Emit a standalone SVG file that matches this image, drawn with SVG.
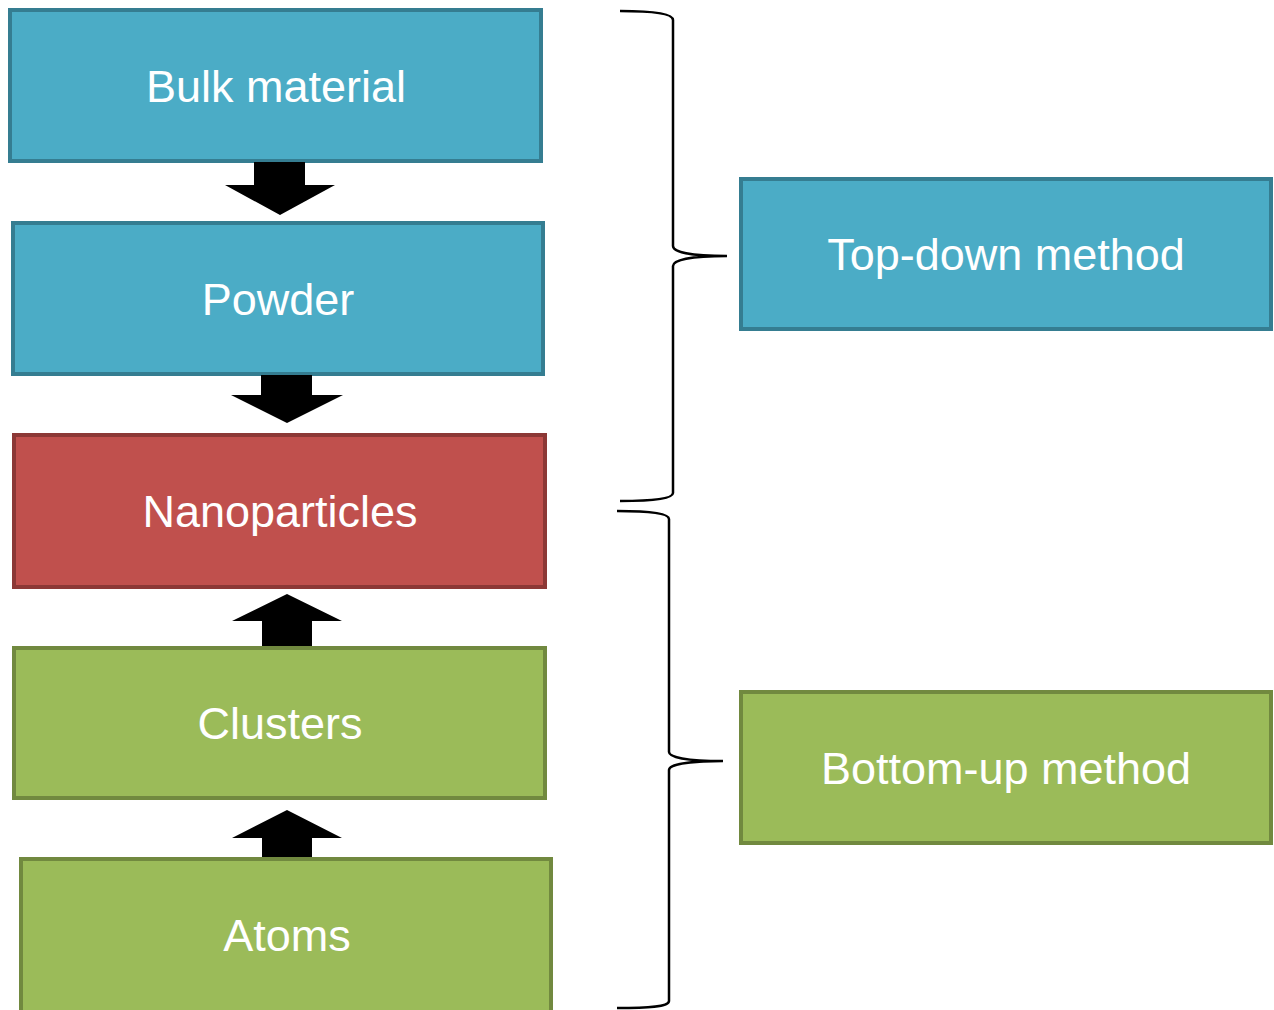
<svg xmlns="http://www.w3.org/2000/svg" width="1274" height="1010" viewBox="0 0 1274 1010">
<style>
.blue{fill:#4BACC6;stroke:#357D91;stroke-width:4}
.red{fill:#C0504D;stroke:#8C3836;stroke-width:4}
.green{fill:#9BBB59;stroke:#71893F;stroke-width:4}
.lbl{font-family:"Liberation Sans",Arial,sans-serif;font-size:45px;fill:#FFFFFF;text-anchor:middle}
.arr{fill:#000000}
.brace{fill:none;stroke:#000000;stroke-width:2.5}
</style>
<rect x="0" y="0" width="1274" height="1010" fill="#FFFFFF"/>
<g id="bulk"><rect class="blue" x="10" y="10" width="531" height="151"/><text class="lbl" x="276" y="102">Bulk material</text></g>
<g id="powder"><rect class="blue" x="13" y="223" width="530" height="151"/><text class="lbl" x="278" y="315">Powder</text></g>
<g id="nano"><rect class="red" x="14" y="435" width="531" height="152"/><text class="lbl" x="280" y="527">Nanoparticles</text></g>
<g id="clusters"><rect class="green" x="14" y="648" width="531" height="150"/><text class="lbl" x="280" y="739">Clusters</text></g>
<g id="atoms"><rect class="green" x="21" y="859" width="530" height="160"/><text class="lbl" x="287" y="951">Atoms</text></g>
<g id="topdown"><rect class="blue" x="741" y="179" width="530" height="150"/><text class="lbl" x="1006" y="270">Top-down method</text></g>
<g id="bottomup"><rect class="green" x="741" y="692" width="530" height="151"/><text class="lbl" x="1006" y="784">Bottom-up method</text></g>
<g id="connectors">
<polygon class="arr" points="254,162 305,162 305,185 335,185 280,215 225,185 254,185"/>
<polygon class="arr" points="261,375 312,375 312,395 343,395 287,423 231,395 261,395"/>
<polygon class="arr" points="262,646 312,646 312,621 342,621 287,594 232,621 262,621"/>
<polygon class="arr" points="262,857 312,857 312,838 342,838 287,810 232,838 262,838"/>
<path class="brace" d="M620,11 C650,11 673,13 673,20 L673,246 C673,252 690,256 727,256 C690,256 673,260 673,266 L673,493 C673,499 650,501 620,501"/>
<path class="brace" d="M617,511 C647,511 669,513 669,519 L669,752 C669,757 686,761 723,761 C686,761 669,765 669,770 L669,1001 C669,1007 647,1008 617,1008"/>
</g>
</svg>
